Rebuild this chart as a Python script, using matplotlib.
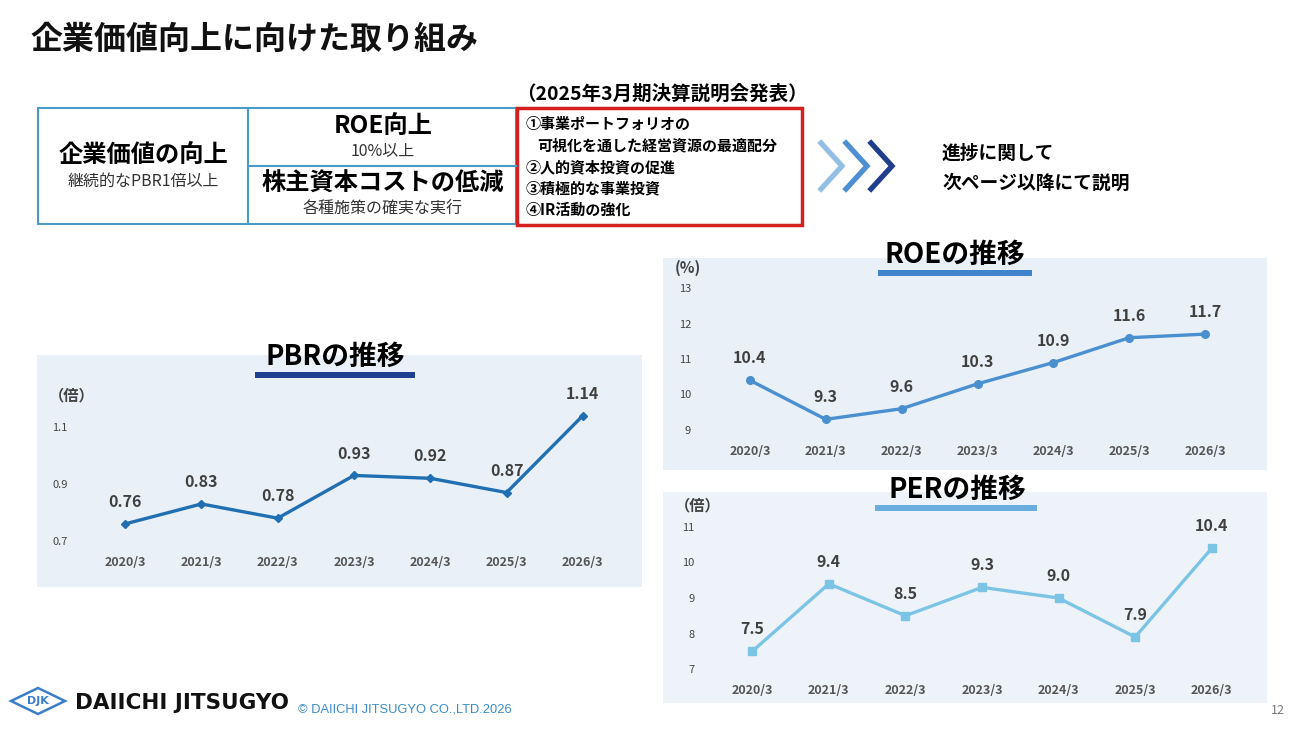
import matplotlib
matplotlib.use('Agg')
import matplotlib.pyplot as plt
from matplotlib.patches import Rectangle, Polygon

plt.rcParams['font.family'] = ['Noto Sans CJK JP', 'DejaVu Sans']

# data
years = ['2020/3', '2021/3', '2022/3', '2023/3', '2024/3', '2025/3', '2026/3']
pbr = [0.76, 0.83, 0.78, 0.93, 0.92, 0.87, 1.14]
roe = [10.4, 9.3, 9.6, 10.3, 10.9, 11.6, 11.7]
per = [7.5, 9.4, 8.5, 9.3, 9.0, 7.9, 10.4]
pbr_ticks = [0.7, 0.9, 1.1]
roe_ticks = [9, 10, 11, 12, 13]
per_ticks = [7, 8, 9, 10, 11]

W, H = 1299, 731
fig = plt.figure(figsize=(W / 100, H / 100), dpi=100)
fig.patch.set_facecolor('white')

bg = fig.add_axes([0, 0, 1, 1])
bg.set_xlim(0, W)
bg.set_ylim(H, 0)
bg.axis('off')


def px_axes(x0, y0, x1, y1):
    a = fig.add_axes([x0 / W, 1 - y1 / H, (x1 - x0) / W, (y1 - y0) / H])
    a.patch.set_alpha(0)
    return a


# page title
bg.text(30, 40, '企業価値向上に向けた取り組み', fontsize=23, fontweight='bold',
        va='center', ha='left', color='#111111')

# left table
edge = '#4a9cc8'
bg.add_patch(Rectangle((38, 108), 478, 116, fill=False, ec=edge, lw=1.5))
bg.plot([248, 248], [108, 224], color=edge, lw=1.5)
bg.plot([248, 516], [166, 166], color=edge, lw=1.5)
bg.text(143, 155, '企業価値の向上', fontsize=17.5, fontweight='bold', ha='center', va='center')
bg.text(143, 181, '継続的なPBR1倍以上', fontsize=11.5, ha='center', va='center', color='#333333')
bg.text(383, 126, 'ROE向上', fontsize=17.5, fontweight='bold', ha='center', va='center')
bg.text(383, 151, '10%以上', fontsize=11.5, ha='center', va='center', color='#333333')
bg.text(383, 184, '株主資本コストの低減', fontsize=17.5, fontweight='bold', ha='center', va='center')
bg.text(383, 209, '各種施策の確実な実行', fontsize=11.5, ha='center', va='center', color='#333333')

# red box
bg.text(662, 94, '（2025年3月期決算説明会発表）', fontsize=14, fontweight='bold',
        ha='center', va='center')
bg.add_patch(Rectangle((517, 108), 285, 117, fill=False, ec='#d42020', lw=2.5))
items = ['①事業ポートフォリオの', '可視化を通した経営資源の最適配分', '②人的資本投資の促進',
         '③積極的な事業投資', '④IR活動の強化']
for k, s in enumerate(items):
    x = 537 if k == 1 else 526
    bg.text(x, 124 + k * 21.5, s, fontsize=10.8, fontweight='bold', ha='left', va='center')

# chevrons
for k, c in enumerate(['#94bfe4', '#4d8fd0', '#1f3f8c']):
    x = 821 + k * 25
    bg.plot([x, x + 21, x], [143, 166, 189], color=c, lw=3.8, solid_joinstyle='miter')

bg.text(942, 153, '進捗に関して', fontsize=13.5, fontweight='bold', ha='left', va='center')
bg.text(942, 183, '次ページ以降にて説明', fontsize=13.5, fontweight='bold', ha='left', va='center')


def panel(rect, title, tx, ty, bar, bar_color, unit, uy, bgc):
    x0, y0, x1, y1 = rect
    bg.add_patch(Rectangle((x0, y0), x1 - x0, y1 - y0, fc=bgc, ec='none', zorder=0))
    bg.add_patch(Rectangle((bar[0], ty + 15), bar[1] - bar[0], 6, fc=bar_color, ec='none', zorder=1))
    bg.text(tx, ty, title, fontsize=20, fontweight='bold', ha='center', va='center', zorder=2)
    bg.text(x0 + 12, uy, unit, fontsize=11, fontweight='bold', ha='left', va='center', color='#444444')


def chart(ax, vals, ticks, ylim, color, marker, msize, fmt, ytick_gap):
    ax.plot(range(len(vals)), vals, color=color, lw=2.4, marker=marker, ms=msize,
            clip_on=False, zorder=3)
    for i, v in enumerate(vals):
        ax.annotate(fmt.format(v), (i, v), xytext=(0, 10), textcoords='offset points',
                    ha='center', va='bottom', fontsize=11.5, fontweight='bold', color='#404040')
    ax.set_xlim(-0.5, len(vals) - 0.5)
    ax.set_ylim(*ylim)
    ax.set_yticks(ticks)
    ax.set_yticklabels([str(t) for t in ticks], fontsize=8, color='#444444')
    ax.set_xticks(range(len(vals)))
    ax.set_xticklabels(years, fontsize=9, fontweight='bold', color='#555555')
    ax.tick_params(length=0)
    ax.tick_params(axis='y', pad=ytick_gap)
    ax.tick_params(axis='x', pad=11)
    for s in ax.spines.values():
        s.set_visible(False)


# PBR
panel((37, 355, 642, 587), 'PBRの推移', 335, 357, (255, 415), '#1f3f8f', '（倍）', 395, '#eaf0f8')
ax1 = px_axes(87, 398.5, 621, 541)
chart(ax1, pbr, pbr_ticks, (0.7, 1.2), '#1f6fb2', 'D', 4, '{:.2f}', 14)

# ROE
panel((663, 258, 1267, 470), 'ROEの推移', 955, 255, (878, 1032), '#3f84cc', '(%)', 268, '#eaf0f8')
ax2 = px_axes(712, 288, 1243, 430)
chart(ax2, roe, roe_ticks, (9, 13), '#4a8fd0', 'o', 5.5, '{:.1f}', 15)

# PER
panel((663, 492, 1267, 703), 'PERの推移', 957, 490, (875, 1037), '#6aaee0', '（倍）', 505, '#eef3f9')
ax3 = px_axes(714, 527, 1250, 669)
chart(ax3, per, per_ticks, (7, 11), '#7cc4e6', 's', 5.5, '{:.1f}', 14)

# footer
bg.add_patch(Polygon([(11, 701), (38, 688), (65, 701), (38, 714)], closed=True,
                     fill=False, ec='#3a7fc8', lw=1.8))
bg.text(38, 701, 'DJK', fontsize=8, fontweight='bold', color='#3a7fc8',
        ha='center', va='center', family='DejaVu Sans')
bg.text(75, 703, 'DAIICHI JITSUGYO', fontsize=15.5, fontweight='heavy', color='#111111',
        ha='left', va='center', family='DejaVu Sans')
bg.text(298, 709, '© DAIICHI JITSUGYO CO.,LTD.2026', fontsize=9.3, color='#3a8cc8',
        ha='left', va='center', family='Liberation Sans')
bg.text(1278, 711, '12', fontsize=9, color='#777777', ha='center', va='center')

fig.savefig('out.png', dpi=100)
